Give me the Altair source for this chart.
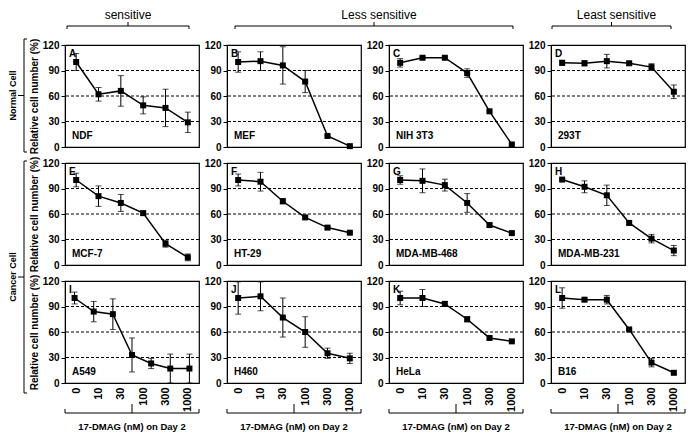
import altair as alt
import pandas as pd

# ---------------- data ----------------
doses = ["0", "10", "30", "100", "300", "1000"]
letters = ["A", "B", "C", "D", "E", "F", "G", "H", "I", "J", "K", "L"]
cell_lines = ["NDF", "MEF", "NIH 3T3", "293T", "MCF-7", "HT-29",
              "MDA-MB-468", "MDA-MB-231", "A549", "H460", "HeLa", "B16"]

ndf_mean = [100, 62, 66, 49, 46, 29]
ndf_err = [10, 8, 18, 10, 22, 12]
mef_mean = [100, 101, 96, 77, 13, 1]
mef_err = [12, 11, 22, 13, 1, 1]
nih3t3_mean = [99, 105, 105, 87, 42, 3]
nih3t3_err = [5, 1.5, 1, 5, 1, 1]
t293_mean = [99, 98.5, 101, 98.5, 94, 65]
t293_err = [3, 3, 8, 2, 4, 8]
mcf7_mean = [100, 81, 73, 61, 25, 9]
mcf7_err = [8, 12, 10, 2.5, 4, 4]
ht29_mean = [100, 98, 75, 56, 44, 38]
ht29_err = [7, 11, 3, 2, 1.5, 1]
mda468_mean = [100, 99, 94, 73, 47, 37.5]
mda468_err = [5, 14, 7, 11, 2, 1.5]
mda231_mean = [100.5, 92, 82, 49.5, 31, 17]
mda231_err = [0.8, 7, 12, 2, 5, 6]
a549_mean = [100, 84, 81, 33, 23, 17, 17]
a549_err = [7, 12, 18, 20, 6, 17, 17]
h460_mean = [100, 102, 77, 60, 35, 29]
h460_err = [19, 17, 23, 18, 6, 6]
hela_mean = [100, 100, 93, 75, 53, 49]
hela_err = [8, 10, 3, 3, 2, 1]
b16_mean = [100, 98, 98, 63, 24, 12]
b16_err = [12, 1.5, 5, 1, 5, 1.5]

means = [ndf_mean, mef_mean, nih3t3_mean, t293_mean, mcf7_mean, ht29_mean,
         mda468_mean, mda231_mean, a549_mean, h460_mean, hela_mean, b16_mean]
errs = [ndf_err, mef_err, nih3t3_err, t293_err, mcf7_err, ht29_err,
        mda468_err, mda231_err, a549_err, h460_err, hela_err, b16_err]

grid_levels = [30, 60, 90]
y_ticks = [0, 30, 60, 90, 120]
sens_groups = ["sensitive", "Less sensitive", "Least sensitive"]
cell_groups = ["Normal Cell", "Cancer Cell"]
x_title = "17-DMAG (nM) on Day 2"
y_title = "Relative cell number (%)"

# ---------------- layout ----------------
W, H = 134, 102
CS, RS = 28, 16
FONT = "Liberation Sans"
one = pd.DataFrame({"k": [0]})


def seg_h(x1, x2, y):
    return alt.Chart(one).mark_rule(color="black", strokeWidth=1).encode(
        x=alt.value(x1), x2=alt.value(x2), y=alt.value(y))


def seg_v(x, y1, y2):
    return alt.Chart(one).mark_rule(color="black", strokeWidth=1).encode(
        x=alt.value(x), y=alt.value(y1), y2=alt.value(y2))


def label(txt, x, y, size, weight="bold", angle=0, align="left"):
    kw = dict(text=txt, font=FONT, fontSize=size, fontWeight=weight,
              color="black", align=align, baseline="middle")
    if angle:
        kw["angle"] = angle
    return alt.Chart(one).mark_text(**kw).encode(x=alt.value(x), y=alt.value(y))


def top_bracket(x1, x2, xm, txt, xt):
    y = -19
    return [seg_h(x1, x2, y), seg_v(x1, y, y + 3), seg_v(x2, y, y + 3),
            seg_v(xm, y - 4, y), label(txt, xt, -30, 12, "normal", align="center")]


def left_bracket(y1, y2, txt):
    x = -41
    ym = (y1 + y2) / 2
    return [seg_v(x, y1, y2), seg_h(x, x + 3, y1), seg_h(x, x + 3, y2),
            seg_h(x - 6, x, ym), label(txt, -52, ym, 9, angle=270, align="center")]


def bottom_bracket():
    y = H + 30
    return [seg_h(0, W, y), seg_v(0, y - 4, y), seg_v(W, y - 4, y),
            seg_v(W / 2, y - 9, y), label(x_title, W / 2, H + 44, 9.5, align="center")]


def panel(i):
    row, col = divmod(i, 4)
    mean, err = means[i], errs[i]
    n = len(mean)
    df = pd.DataFrame({
        "idx": list(range(n)),
        "mean": mean,
        "lo": [max(0, m - e) for m, e in zip(mean, err)],
        "hi": [min(120, m + e) for m, e in zip(mean, err)],
    })
    base = alt.Chart(df)
    ysc = alt.Scale(domain=[0, 120], nice=False)
    xd = alt.X("idx:O", axis=None, scale=alt.Scale(type="point", padding=0.5))
    yaxis = alt.Axis(values=y_ticks, grid=False, labelFont=FONT, labelFontSize=10,
                     labelFontWeight="bold", labelColor="black", tickColor="black",
                     tickSize=4, domainColor="black", labelPadding=2,
                     title=(y_title if col == 0 else None), titleFont=FONT,
                     titleFontSize=10, titleFontWeight="bold", titleColor="black",
                     titlePadding=3)

    def Y(field):
        return alt.Y(field, scale=ysc, axis=yaxis)

    layers = [
        alt.Chart(pd.DataFrame({"level": grid_levels})).mark_rule(
            color="black", strokeDash=[3, 2], strokeWidth=1).encode(y=Y("level:Q")),
        base.mark_rule(color="black", strokeWidth=1).encode(
            x=xd, y=Y("lo:Q"), y2="hi:Q"),
        base.mark_tick(color="black", size=6, thickness=1).encode(x=xd, y=Y("lo:Q")),
        base.mark_tick(color="black", size=6, thickness=1).encode(x=xd, y=Y("hi:Q")),
        base.mark_line(color="black", strokeWidth=1.5).encode(x=xd, y=Y("mean:Q")),
        base.mark_square(size=36, color="black", opacity=1).encode(x=xd, y=Y("mean:Q")),
        label(letters[i], 4, 9, 10),
        label(cell_lines[i], 7, H - 11, 10),
    ]
    if row == 2:
        layers.append(
            alt.Chart(pd.DataFrame({"dose": doses})).mark_point(opacity=0).encode(
                x=alt.X("dose:O", sort=doses,
                        scale=alt.Scale(type="point", padding=0.5),
                        axis=alt.Axis(labelAngle=-90, labelFont=FONT, labelFontSize=11,
                                      labelFontWeight="bold", labelColor="black",
                                      ticks=False, domain=False, labelPadding=4,
                                      title=None))))
        layers += bottom_bracket()
    if row == 0 and col == 0:
        layers += top_bracket(2, W - 10, (2 + W - 10) / 2, sens_groups[0], (2 + W - 10) / 2)
        layers += left_bracket(-6, H + 5, cell_groups[0])
    if row == 0 and col == 1:
        x2 = 2 * W + CS - 10
        layers += top_bracket(8, x2, (8 + x2) / 2, sens_groups[1], (8 + x2) / 2 + 5)
    if row == 0 and col == 3:
        layers += top_bracket(1, W - 14, (1 + W - 14) / 2, sens_groups[2], (1 + W - 14) / 2 + 5)
    if row == 1 and col == 0:
        layers += left_bracket(-2, 2 * H + RS + 10, cell_groups[1])
    return alt.layer(*layers).resolve_scale(x="independent").properties(width=W, height=H)


charts = [panel(i) for i in range(12)]

chart = alt.concat(
    *charts, columns=4, spacing={"row": RS, "column": CS}, bounds="flush"
).properties(padding=0, background="white").configure_view(
    stroke="black", strokeWidth=1.2
)

chart.save("out.html", embed_options={"renderer": "svg", "actions": False})
